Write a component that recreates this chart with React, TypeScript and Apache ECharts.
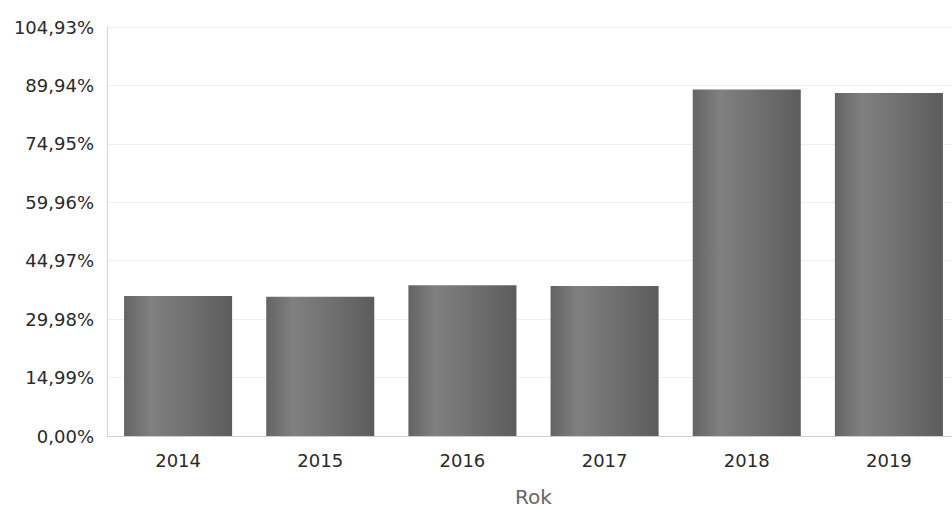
import React, { useEffect, useRef } from "react";
import * as echarts from "echarts";

const categories = ["2014", "2015", "2016", "2017", "2018", "2019"];
const values = [35.9, 35.7, 38.7, 38.5, 88.9, 88.0];
const yMin = 0;
const yMax = 104.93;
const yStep = 14.99;
const xAxisName = "Rok";

const fmt = (v: number) => v.toFixed(2).replace(".", ",") + "%";

export default function App() {
  const ref = useRef<HTMLDivElement>(null);
  useEffect(() => {
    if (!ref.current) return;
    const chart = echarts.init(ref.current, undefined, { renderer: "svg" });
    chart.setOption({
      animation: false,
      backgroundColor: "#ffffff",
      grid: {
        left: 107,
        right: -8,
        top: 27,
        bottom: 73,
        containLabel: false,
        outerBoundsMode: "none",
      },
      xAxis: {
        type: "category",
        data: categories,
        name: xAxisName,
        nameLocation: "middle",
        nameGap: 51,
        nameTextStyle: { fontFamily: "DejaVu Sans", fontSize: 20, color: "#666" },
        axisLine: { lineStyle: { color: "#cfcfcf", width: 1 } },
        axisTick: { show: false },
        axisLabel: { fontFamily: "DejaVu Sans", fontSize: 18, color: "#2a2a2a", margin: 15 },
      },
      yAxis: {
        type: "value",
        min: yMin,
        max: yMax,
        interval: yStep,
        axisLine: { show: true, lineStyle: { color: "#d4d4d4", width: 1 } },
        axisTick: { show: false },
        splitLine: { lineStyle: { color: "#efefef", width: 1 } },
        axisLabel: {
          fontFamily: "DejaVu Sans",
          fontSize: 18,
          color: "#2a2a2a",
          margin: 13,
          formatter: (v: number) => fmt(v),
        },
      },
      series: [
        {
          type: "bar",
          data: values,
          barWidth: "76%",
          itemStyle: {
            color: new echarts.graphic.LinearGradient(0, 0, 1, 0, [
              { offset: 0, color: "#646464" },
              { offset: 0.25, color: "#808080" },
              { offset: 0.6, color: "#707070" },
              { offset: 1, color: "#5c5c5c" },
            ]),
          },
        },
      ],
    });
    return () => chart.dispose();
  }, []);
  return (
    <div
      ref={ref}
      style={{ position: "fixed", left: 0, top: 0, width: 952, height: 509 }}
    />
  );
}
